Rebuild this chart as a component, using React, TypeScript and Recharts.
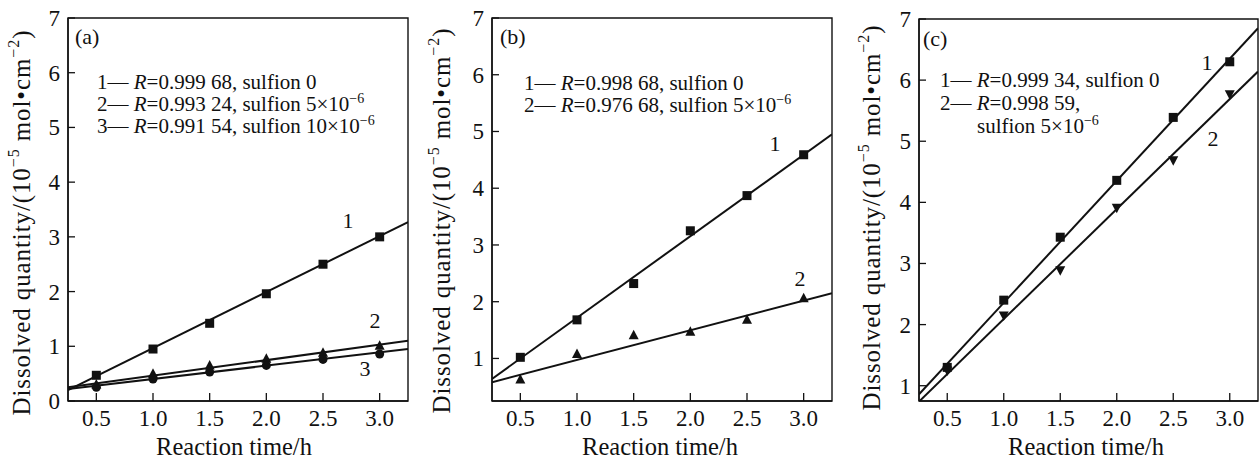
import React from "react";
import { ComposedChart, Line, Scatter, XAxis, YAxis, ReferenceArea } from "recharts";

const FONT = '"Liberation Serif", "Times New Roman", serif';
const INK = "#111";

// shared x values (reaction time, h)
const times = [0.5, 1.0, 1.5, 2.0, 2.5, 3.0];
const timeTicks = [0.5, 1.0, 1.5, 2.0, 2.5, 3.0];
const timeRange = [0.25, 3.25];

// panel (a)
const aSulfion0 = [0.47, 0.95, 1.42, 1.96, 2.5, 3.0];
const aSulfion5 = [0.3, 0.5, 0.65, 0.77, 0.88, 1.01];
const aSulfion10 = [0.25, 0.4, 0.53, 0.65, 0.76, 0.86];
const aFit0 = [0.2, 3.27];
const aFit5 = [0.25, 1.1];
const aFit10 = [0.22, 0.95];
const aYTicks = [0, 1, 2, 3, 4, 5, 6, 7];
const aYRange = [0, 7];
const aLegend = [
  { id: "1", r: "0.999 68", dose: "0", exp: "" },
  { id: "2", r: "0.993 24", dose: "5×10", exp: "−6" },
  { id: "3", r: "0.991 54", dose: "10×10", exp: "−6" },
];

// panel (b)
const bSulfion0 = [1.02, 1.68, 2.32, 3.25, 3.87, 4.59];
const bSulfion5 = [0.63, 1.08, 1.41, 1.47, 1.68, 2.06];
const bFit0 = [0.64, 4.95];
const bFit5 = [0.58, 2.15];
const bYTicks = [1, 2, 3, 4, 5, 6, 7];
const bYRange = [0.25, 7];
const bLegend = [
  { id: "1", r: "0.998 68", dose: "0", exp: "" },
  { id: "2", r: "0.976 68", dose: "5×10", exp: "−6" },
];

// panel (c)
const cSulfion0 = [1.3, 2.4, 3.43, 4.36, 5.39, 6.3];
const cSulfion5 = [1.25, 2.15, 2.89, 3.91, 4.69, 5.77];
const cFit0 = [0.86, 6.85];
const cFit5 = [0.74, 6.14];
const cYTicks = [1, 2, 3, 4, 5, 6, 7];
const cYRange = [0.75, 7];
const cLegend = [
  { id: "1", r: "0.999 34", dose: "0", exp: "" },
  { id: "2", r: "0.998 59", dose: "5×10", exp: "−6", wrap: true },
];

type Kind = "square" | "up" | "circle" | "down";
type Series = { name: string; values: number[]; fit: number[]; kind: Kind; tag: number[] };
type LegendRow = { id: string; r: string; dose: string; exp: string; wrap?: boolean };

const pts = (vals: number[]) => times.map((t, i) => ({ x: t, y: vals[i] }));
const fitPts = (vals: number[]) => timeRange.map((t, i) => ({ x: t, y: vals[i] }));

function marker(kind: Kind) {
  return (p: any) => {
    const { cx, cy } = p;
    if (kind === "square") return <rect x={cx - 4.5} y={cy - 4.5} width={9} height={9} fill={INK} />;
    if (kind === "circle") return <circle cx={cx} cy={cy} r={4.5} fill={INK} />;
    if (kind === "up")
      return <polygon points={`${cx},${cy - 5.5} ${cx - 5},${cy + 4} ${cx + 5},${cy + 4}`} fill={INK} />;
    return <polygon points={`${cx},${cy + 5.5} ${cx - 5},${cy - 4} ${cx + 5},${cy - 4}`} fill={INK} />;
  };
}

const GAP = 7;

// ticks point into the plot, labels sit outside
const renderXTick = (props: any) => {
  const { x, y, payload } = props;
  const axisY = y - GAP;
  return (
    <g>
      <line x1={x} x2={x} y1={axisY} y2={axisY - 8} stroke={INK} strokeWidth={1.3} />
      <text x={x} y={axisY + 25} textAnchor="middle" fontFamily={FONT} fontSize={23} fill={INK}>
        {Number(payload.value).toFixed(1)}
      </text>
    </g>
  );
};

const renderYTick = (props: any) => {
  const { x, y, payload } = props;
  const axisX = x + GAP;
  return (
    <g>
      <line x1={axisX} x2={axisX + 7} y1={y} y2={y} stroke={INK} strokeWidth={1.3} />
      <text x={x - 1} y={y + 8} textAnchor="end" fontFamily={FONT} fontSize={23} fill={INK}>
        {payload.value}
      </text>
    </g>
  );
};

function Panel(props: {
  left: number;
  plotLeft: number;
  margin: { top: number; right: number };
  yRange: number[];
  yTicks: number[];
  series: Series[];
  tag: string;
  tagPos: number[];
  legend: LegendRow[];
  legendX: number;
  legendY: number[];
  wrapX?: number;
  yTitle: number[];
  xTitle: number[];
}) {
  const { left, margin, yRange, yTicks, series, legend } = props;
  const W = 420;
  const H = 463;
  const BOTTOM = 62;
  return (
    <div style={{ position: "absolute", left, top: 0, width: W, height: H }}>
      <ComposedChart width={W} height={H} margin={{ top: margin.top, right: margin.right, left: 0, bottom: 0 }}>
        <XAxis
          dataKey="x"
          type="number"
          domain={timeRange}
          ticks={timeTicks}
          allowDataOverflow
          interval={0}
          height={BOTTOM}
          tickSize={0}
          tickMargin={GAP}
          tick={renderXTick}
          axisLine={{ stroke: INK, strokeWidth: 1.4 }}
        />
        <YAxis
          dataKey="y"
          type="number"
          domain={yRange}
          ticks={yTicks}
          allowDataOverflow
          interval={0}
          width={props.plotLeft}
          tickSize={0}
          tickMargin={GAP}
          tick={renderYTick}
          axisLine={{ stroke: INK, strokeWidth: 1.4 }}
        />
        <ReferenceArea
          x1={timeRange[0]}
          x2={timeRange[1]}
          y1={yRange[0]}
          y2={yRange[1]}
          fill="none"
          stroke={INK}
          strokeWidth={1.4}
        />
        {series.map((s) => (
          <Line
            key={"fit" + s.name}
            data={fitPts(s.fit)}
            dataKey="y"
            stroke={INK}
            strokeWidth={2}
            dot={false}
            activeDot={false}
            isAnimationActive={false}
          />
        ))}
        {series.map((s) => (
          <Scatter
            key={"pts" + s.name}
            data={pts(s.values)}
            dataKey="y"
            shape={marker(s.kind)}
            isAnimationActive={false}
          />
        ))}
      </ComposedChart>
      <svg
        width={W}
        height={H}
        style={{ position: "absolute", left: 0, top: 0, pointerEvents: "none" }}
        fontFamily={FONT}
        fill={INK}
      >
        <text x={props.tagPos[0]} y={props.tagPos[1]} fontSize={22}>
          {props.tag}
        </text>
        {legend.map((row, i) => (
          <text key={row.id} x={props.legendX} y={props.legendY[i]} fontSize={21}>
            {row.id}— <tspan fontStyle="italic">R</tspan>={row.r},{row.wrap ? "" : " sulfion " + row.dose}
            {!row.wrap && row.exp ? (
              <tspan dy={-8} fontSize={14}>
                {row.exp}
              </tspan>
            ) : null}
          </text>
        ))}
        {legend
          .filter((row) => row.wrap)
          .map((row) => (
            <text key={"w" + row.id} x={props.wrapX} y={props.legendY[legend.length]} fontSize={21}>
              sulfion {row.dose}
              <tspan dy={-8} fontSize={14}>
                {row.exp}
              </tspan>
            </text>
          ))}
        {series.map((s) => (
          <text key={"t" + s.name} x={s.tag[0]} y={s.tag[1]} fontSize={22} textAnchor="middle">
            {s.name}
          </text>
        ))}
        <text x={props.xTitle[0]} y={props.xTitle[1]} fontSize={24.5} textAnchor="middle">
          Reaction time/h
        </text>
        <text
          x={props.yTitle[0]}
          y={props.yTitle[1]}
          transform={`rotate(-90 ${props.yTitle[0]} ${props.yTitle[1]})`}
          fontSize={25}
          textAnchor="middle"
          dominantBaseline="central"
          textLength={385}
          lengthAdjust="spacing"
        >
          Dissolved quantity/(10
          <tspan dy={-8} fontSize={16}>
            −5
          </tspan>
          <tspan dy={8}> mol•cm</tspan>
          <tspan dy={-8} fontSize={16}>
            −2
          </tspan>
          <tspan dy={8}>)</tspan>
        </text>
      </svg>
    </div>
  );
}

export default function App() {
  return (
    <div style={{ position: "absolute", left: 0, top: 0, width: 1260, height: 463, background: "#fff" }}>
      <Panel
        left={0}
        plotLeft={68}
        margin={{ top: 18, right: 12 }}
        yRange={aYRange}
        yTicks={aYTicks}
        series={[
          { name: "1", values: aSulfion0, fit: aFit0, kind: "square", tag: [348, 228] },
          { name: "2", values: aSulfion5, fit: aFit5, kind: "up", tag: [375, 328] },
          { name: "3", values: aSulfion10, fit: aFit10, kind: "circle", tag: [365, 376] },
        ]}
        tag="(a)"
        tagPos={[75, 44]}
        legend={aLegend}
        legendX={97}
        legendY={[89, 111, 133]}
        yTitle={[21, 223]}
        xTitle={[234, 455]}
      />
      <Panel
        left={420}
        plotLeft={72}
        margin={{ top: 18, right: 8 }}
        yRange={bYRange}
        yTicks={bYTicks}
        series={[
          { name: "1", values: bSulfion0, fit: bFit0, kind: "square", tag: [355, 151] },
          { name: "2", values: bSulfion5, fit: bFit5, kind: "up", tag: [380, 286] },
        ]}
        tag="(b)"
        tagPos={[80, 44]}
        legend={bLegend}
        legendX={104}
        legendY={[90, 112]}
        yTitle={[21, 221]}
        xTitle={[240, 455]}
      />
      <Panel
        left={840}
        plotLeft={79}
        margin={{ top: 19, right: 2 }}
        yRange={cYRange}
        yTicks={cYTicks}
        series={[
          { name: "1", values: cSulfion0, fit: cFit0, kind: "square", tag: [367, 70] },
          { name: "2", values: cSulfion5, fit: cFit5, kind: "down", tag: [373, 146] },
        ]}
        tag="(c)"
        tagPos={[83, 46]}
        legend={cLegend}
        legendX={100}
        legendY={[87, 110, 133]}
        wrapX={137}
        yTitle={[31, 218]}
        xTitle={[246, 455]}
      />
    </div>
  );
}
